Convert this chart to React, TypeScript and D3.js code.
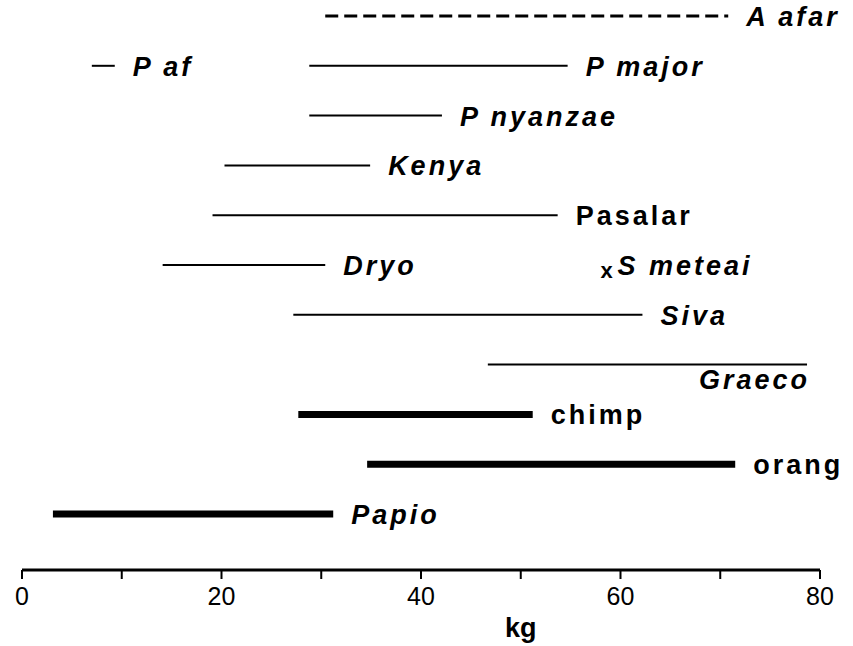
import React from "react";
import * as d3 from "d3";

// body mass ranges (kg)
const names = ["A afar", "P af", "P major", "P nyanzae", "Kenya", "Pasalar", "Dryo", "Siva", "Graeco", "chimp", "orang", "Papio"];
const lows = [30.4, 7.0, 28.8, 28.8, 20.3, 19.1, 14.1, 27.2, 46.7, 27.7, 34.6, 3.1];
const highs = [70.8, 9.3, 54.7, 42.1, 34.9, 53.7, 30.4, 62.2, 78.7, 51.2, 71.5, 31.2];
const rows = [0, 1, 1, 2, 3, 4, 5, 6, 7, 8, 9, 10];
const kinds = ["estimate", "fossil", "fossil", "fossil", "fossil", "fossil", "fossil", "fossil", "fossil", "living", "living", "living"];
const italic = [true, true, true, true, true, false, true, true, true, false, false, true];

// single point estimate
const pointName = "S meteai";
const pointValue = 58.6;
const pointRow = 5;

const ticks = [0, 10, 20, 30, 40, 50, 60, 70, 80];
const tickLabels = [0, 20, 40, 60, 80];

const W = 853;
const H = 646;

const App = () => {
  const x = d3.scaleLinear().domain([0, 80]).range([22, 820]);
  const y = d3.scalePoint<number>().domain(d3.range(11)).range([16, 514]);
  const axisY = 570;

  const font = "'Liberation Sans', Arial, sans-serif";
  const fs = 27;
  const ls = 3;

  return (
    <svg width={W} height={H} style={{ position: "absolute", left: 0, top: 0, background: "#fff" }}>
      {names.map((n, i) => {
        const yy = y(rows[i]) as number;
        const kind = kinds[i];
        const sw = kind === "living" ? 7 : kind === "estimate" ? 3 : 2;
        const below = n === "Graeco";
        return (
          <g key={n}>
            <line
              x1={x(lows[i])}
              x2={x(highs[i])}
              y1={yy}
              y2={yy}
              stroke="#000"
              strokeWidth={sw}
              strokeDasharray={kind === "estimate" ? "13,6" : undefined}
            />
            <text
              x={below ? x(highs[i]) + ls : x(highs[i]) + 18}
              y={below ? yy + 24 : yy + 10}
              textAnchor={below ? "end" : "start"}
              fontFamily={font}
              fontWeight="bold"
              fontStyle={italic[i] ? "italic" : "normal"}
              fontSize={fs}
              letterSpacing={ls}
            >
              {n}
            </text>
          </g>
        );
      })}

      <text
        x={x(pointValue)}
        y={(y(pointRow) as number) + 13}
        textAnchor="middle"
        fontFamily={font}
        fontWeight="bold"
        fontSize={22}
      >
        x
      </text>
      <text
        x={x(pointValue) + 11}
        y={(y(pointRow) as number) + 10}
        fontFamily={font}
        fontWeight="bold"
        fontStyle="italic"
        fontSize={fs}
        letterSpacing={ls}
      >
        {pointName}
      </text>

      <line x1={x(0)} x2={x(80)} y1={axisY} y2={axisY} stroke="#000" strokeWidth={3} />
      {ticks.map((t) => (
        <line key={t} x1={x(t)} x2={x(t)} y1={axisY} y2={axisY + 9} stroke="#000" strokeWidth={2} />
      ))}
      {tickLabels.map((t) => (
        <text key={t} x={x(t)} y={axisY + 35} textAnchor="middle" fontFamily={font} fontSize={25}>
          {t}
        </text>
      ))}
      <text x={x(50)} y={axisY + 67} textAnchor="middle" fontFamily={font} fontWeight="bold" fontSize={27}>
        kg
      </text>
    </svg>
  );
};

export default App;
